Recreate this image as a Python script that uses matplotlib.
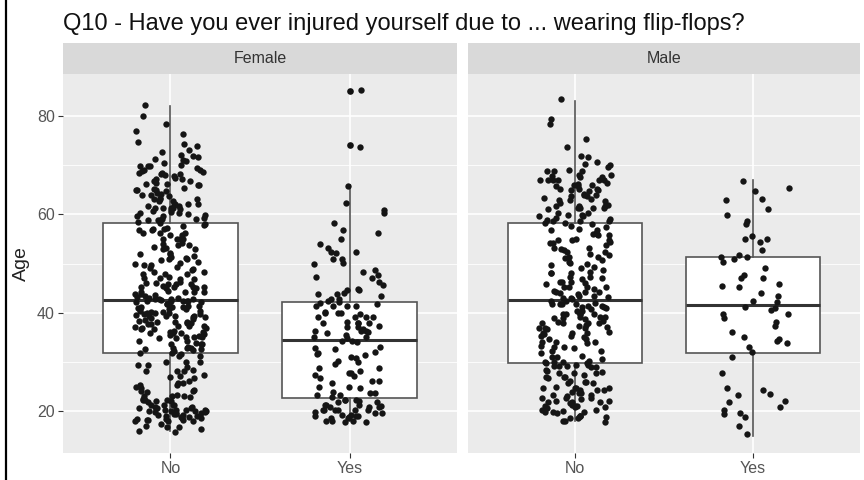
import numpy as np
import matplotlib.pyplot as plt
from matplotlib.lines import Line2D

plt.rcParams['font.family'] = ['Liberation Sans', 'DejaVu Sans']

title = "Q10 - Have you ever injured yourself due to ... wearing flip-flops?"
facets = ["Female", "Male"]
answers = ["No", "Yes"]
y_ticks = [20, 40, 60, 80]
y_minor = [30, 50, 70]

# ages (age -> number of respondents)
female_no_age = list(range(16, 83))
female_no_n = [3, 4, 8, 10, 12, 9, 7, 5, 4, 4, 3, 4, 4, 3, 3, 2,
               5, 6, 6, 7, 7, 8, 8, 9, 10, 9, 10,
               9, 8, 7, 6, 5, 5, 4, 5, 5, 4, 4, 4, 4, 5, 5, 5,
               6, 7, 7, 6, 6, 5, 6, 5, 5, 6, 5, 5, 3, 3, 2, 2, 1, 1,
               1, 1, 0, 1, 0, 1]

female_yes_age = [18, 19, 20, 21, 22,
                  23, 24, 25, 26, 27, 28, 29, 30, 31, 32, 33, 34,
                  35, 36, 37, 38, 39, 40, 41, 42,
                  43, 44, 45, 46, 47, 48, 49, 50, 51, 52, 53, 54, 55, 56, 57, 58,
                  60, 61, 62, 66, 74, 85]
female_yes_n = [5, 8, 9, 7, 6,
                3, 3, 3, 3, 3, 3, 2, 3, 3, 3, 3, 3,
                4, 5, 4, 5, 4, 5, 4, 4,
                3, 3, 3, 2, 2, 2, 1, 2, 2, 3, 1, 1, 1, 1, 1, 1,
                1, 1, 1, 1, 1, 1]

male_no_age = list(range(18, 73)) + [74, 75, 78, 79, 83]
male_no_n = [3, 6, 7, 7, 7, 6, 6, 5, 5, 5, 6, 7,
             6, 4, 3, 4, 4, 5, 5, 6, 7, 6, 7, 6, 7,
             6, 6, 5, 5, 4, 4, 3, 4, 4, 4, 4, 4, 4, 5, 4, 4,
             6, 6, 5, 5, 5, 5, 6, 6, 6, 5, 4, 3, 1, 2,
             1, 1, 1, 1, 1]

male_yes_ages = [15, 17, 19, 19, 20, 20, 21, 22, 22, 23, 23, 24, 25, 28, 31,
                 32, 33, 34, 34, 35, 35, 36, 37, 38, 39, 40, 40, 41, 41, 41,
                 42, 42, 43, 44, 45, 45, 46, 47, 47, 48, 49, 50, 51, 51, 51,
                 52, 53, 54, 55, 55, 56, 58, 59, 60, 61, 63, 63, 65, 65, 67]

groups = {
    "Female": [np.repeat(female_no_age, female_no_n),
               np.repeat(female_yes_age, female_yes_n)],
    "Male": [np.repeat(male_no_age, male_no_n),
             np.array(male_yes_ages)],
}


def jitter(n, k):
    # deterministic hash jitter, like geom_jitter(width=0.2)
    i = np.arange(n) + 1.0
    dx = np.abs(np.sin(i * 12.9898 + k * 78.233) * 43758.5453) % 1.0
    dy = np.abs(np.sin(i * 39.3468 + k * 11.135) * 24634.6345) % 1.0
    return (dx - 0.5) * 0.4, (dy - 0.5) * 0.8


fig = plt.figure(figsize=(8.64, 4.8), dpi=100)
W, H = 864, 480

panel_px = [(63, 457), (468, 860)]
p_top, p_bot = 74, 453
s_top = 43

all_ages = np.concatenate([g for v in groups.values() for g in v])
lo, hi = all_ages.min(), all_ages.max()
pad = (hi - lo) * 0.05

for k, (fac, (x0, x1)) in enumerate(zip(facets, panel_px)):
    ax = fig.add_axes([x0 / W, 1 - p_bot / H, (x1 - x0) / W, (p_bot - p_top) / H])
    ax.set_facecolor('#EBEBEB')
    for s in ax.spines.values():
        s.set_visible(False)

    data = groups[fac]
    ax.boxplot(data, positions=[1, 2], widths=0.75, patch_artist=True,
               showcaps=False, whis=1.5,
               boxprops=dict(facecolor='white', edgecolor='#555555', lw=1.2),
               whiskerprops=dict(color='#555555', lw=1.2),
               medianprops=dict(color='#333333', lw=2.2),
               flierprops=dict(marker='o', markerfacecolor='#111111',
                               markeredgecolor='none', markersize=4.8))
    for j, vals in enumerate(data):
        dx, dy = jitter(len(vals), 2 * k + j)
        ax.scatter(j + 1 + dx, vals + dy, s=21, color='#151515',
                   linewidths=0, zorder=3)

    ax.set_xlim(0.4, 2.6)
    ax.set_ylim(lo - pad, hi + pad)
    ax.set_xticks([1, 2])
    ax.set_xticklabels(answers)
    ax.set_yticks(y_ticks)
    ax.set_yticks(y_minor, minor=True)
    ax.set_axisbelow(True)
    ax.grid(which='major', color='white', lw=1.2)
    ax.grid(which='minor', axis='y', color='white', lw=0.6)
    ax.tick_params(which='minor', length=0)
    ax.tick_params(which='major', color='#333333', length=3.5, width=0.8,
                   labelcolor='#555555', labelsize=11.5, pad=2.5)
    if k != 0:
        ax.tick_params(axis='y', left=False, labelleft=False)

    sax = fig.add_axes([x0 / W, 1 - p_top / H, (x1 - x0) / W, (p_top - s_top) / H])
    sax.set_facecolor('#D9D9D9')
    sax.set_xticks([])
    sax.set_yticks([])
    for s in sax.spines.values():
        s.set_visible(False)
    sax.text(0.5, 0.5, fac, ha='center', va='center', fontsize=11.5,
             color='#333333', transform=sax.transAxes)

fig.text(21.5 / W, 1 - (p_top + p_bot) / 2 / H, 'Age', rotation=90,
         ha='center', va='center', fontsize=14, color='#222222')
fig.text(63 / W, 1 - 30 / H, title, ha='left', va='baseline', fontsize=17,
         color='#111111')

fig.add_artist(Line2D([6 / W, 6 / W], [0, 1], color='black', lw=1.6))

fig.savefig('out.png', dpi=100)
